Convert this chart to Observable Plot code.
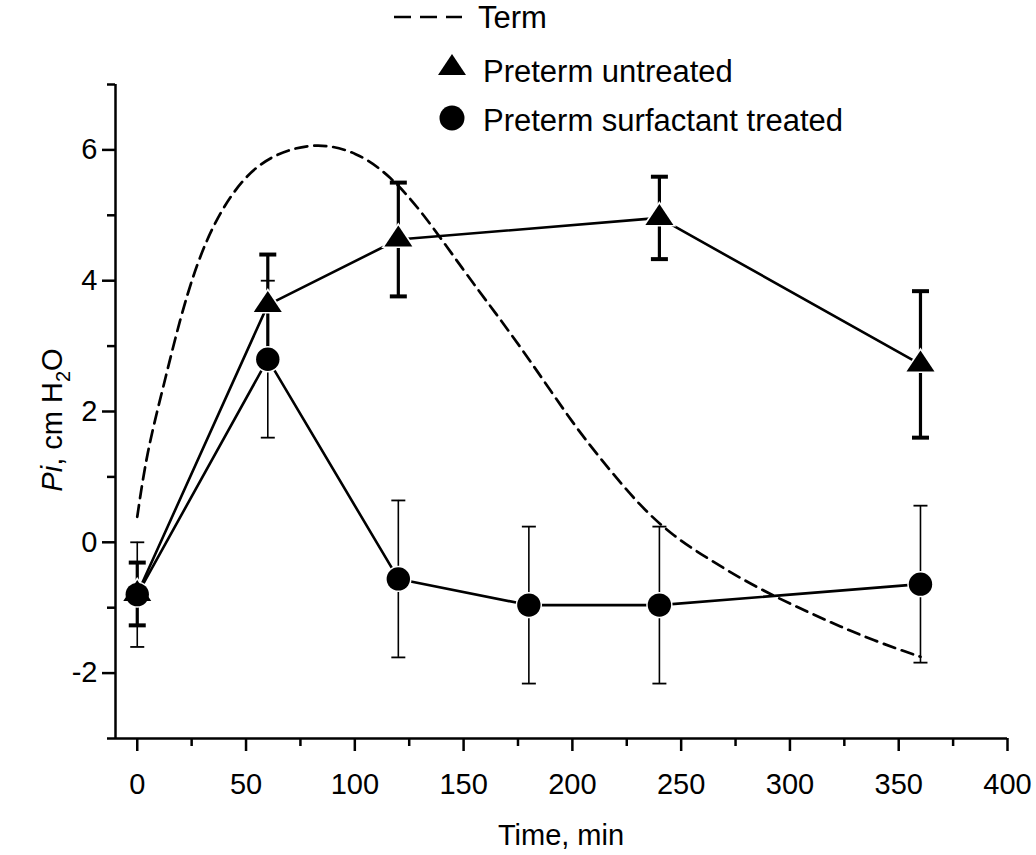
<!DOCTYPE html>
<html><head><meta charset="utf-8">
<script src="https://cdn.jsdelivr.net/npm/d3@7"></script>
<script src="https://cdn.jsdelivr.net/npm/@observablehq/plot@0.6"></script>
<style>
body{margin:0;background:#fff;}
#chart svg{display:block;}
</style></head><body><div id="chart"></div>
<script>
// ---- data ----
const untreatedTime = [0, 60, 120, 240, 360];
const untreatedMean = [-0.79, 3.63, 4.63, 4.96, 2.72];
const untreatedErr  = [0.48, 0.77, 0.87, 0.63, 1.12];

const treatedTime = [0, 60, 120, 180, 240, 360];
const treatedMean = [-0.80, 2.80, -0.56, -0.96, -0.96, -0.64];
const treatedErr  = [0.80, 1.20, 1.20, 1.20, 1.20, 1.20];

const termTime  = [0, 4.3, 12, 19.5, 27.3, 36.5, 48.7, 62.5, 82.5, 100.9, 116.2, 131.5, 149.9, 165.3, 180.6, 200.5, 215.8, 231.2, 246.5, 261.9, 277.2, 292.5, 307.9, 323.2, 338.5, 355.4, 360];
const termValue = [0.39, 1.36, 2.38, 3.40, 4.26, 4.97, 5.58, 5.94, 6.12, 5.97, 5.61, 5.03, 4.16, 3.48, 2.78, 1.80, 1.16, 0.55, 0.09, -0.24, -0.55, -0.82, -1.06, -1.29, -1.50, -1.70, -1.75];

const xMajorTicks = [0, 50, 100, 150, 200, 250, 300, 350, 400];
const xMinorTicks = [25, 75, 125, 175, 225, 275, 325, 375];
const yMajorTicks = [-2, 0, 2, 4, 6];
const yMinorTicks = [-3, -1, 1, 3, 5, 7];

const legendLabels = ["Term", "Preterm untreated", "Preterm surfactant treated"];
const xLabel = "Time, min";

// ---- derived tables ----
const untreated = untreatedTime.map((t, i) => ({t, v: untreatedMean[i], lo: untreatedMean[i] - untreatedErr[i], hi: untreatedMean[i] + untreatedErr[i]}));
const treated = treatedTime.map((t, i) => ({t, v: treatedMean[i], lo: treatedMean[i] - treatedErr[i], hi: treatedMean[i] + treatedErr[i]}));
const term = termTime.map((t, i) => ({t, v: termValue[i]}));

// custom symbols
const capSymbol = {draw(ctx, size) { const h = Math.sqrt(size / Math.PI); ctx.moveTo(-h, 0); ctx.lineTo(h, 0); }};
const triSymbol = {draw(ctx, size) { const r = Math.sqrt(size / Math.PI); const h = r * 1.5; ctx.moveTo(0, -h * 2 / 3); ctx.lineTo(r, h / 3); ctx.lineTo(-r, h / 3); ctx.closePath(); }};

const FONT = "'Liberation Sans', Arial, Helvetica, sans-serif";
const FS = 29;

const svg = Plot.plot({
  width: 1036,
  height: 855,
  marginLeft: 115,
  marginRight: 29,
  marginTop: 84,
  marginBottom: 117,
  style: {fontFamily: FONT, background: "white", color: "black", overflow: "visible"},
  x: {domain: [-10, 400]},
  y: {domain: [-3, 7]},
  marks: [
    // axes
    Plot.axisX({ticks: xMinorTicks, tickSize: 8, tickFormat: () => "", strokeWidth: 2.5, label: null}),
    Plot.axisX({ticks: xMajorTicks, tickSize: 13, tickPadding: 22, tickFormat: d => String(d), fontSize: FS, strokeWidth: 2.5, label: null}),
    Plot.axisY({ticks: yMinorTicks, tickSize: 8, tickFormat: () => "", strokeWidth: 2.5, label: null}),
    Plot.axisY({ticks: yMajorTicks, tickSize: 13, tickPadding: 5, tickFormat: d => String(d), fontSize: FS, strokeWidth: 2.5, label: null}),
    Plot.ruleY([-3], {strokeWidth: 2.5}),
    Plot.ruleX([-10], {strokeWidth: 2.5}),
    // term curve
    Plot.line(term, {x: "t", y: "v", curve: "basis", stroke: "black", strokeWidth: 2.7, strokeDasharray: "12,7"}),
    // treated error bars (thin)
    Plot.ruleX(treated, {x: "t", y1: "lo", y2: "hi", stroke: "black", strokeWidth: 1.6}),
    Plot.dot(treated, {x: "t", y: "hi", symbol: capSymbol, r: 7, fill: "none", stroke: "black", strokeWidth: 1.8}),
    Plot.dot(treated, {x: "t", y: "lo", symbol: capSymbol, r: 7, fill: "none", stroke: "black", strokeWidth: 1.8}),
    // untreated error bars (thick)
    Plot.ruleX(untreated, {x: "t", y1: "lo", y2: "hi", stroke: "black", strokeWidth: 3.2}),
    Plot.dot(untreated, {x: "t", y: "hi", symbol: capSymbol, r: 8.5, fill: "none", stroke: "black", strokeWidth: 4}),
    Plot.dot(untreated, {x: "t", y: "lo", symbol: capSymbol, r: 8.5, fill: "none", stroke: "black", strokeWidth: 4}),
    // series lines
    Plot.line(untreated, {x: "t", y: "v", stroke: "black", strokeWidth: 2.6}),
    Plot.line(treated, {x: "t", y: "v", stroke: "black", strokeWidth: 2.6}),
    // markers with white halo
    Plot.dot(untreated, {x: "t", y: "v", symbol: triSymbol, r: 17, fill: "white", stroke: "none"}),
    Plot.dot(treated, {x: "t", y: "v", r: 13.2, fill: "white", stroke: "none"}),
    Plot.dot(untreated, {x: "t", y: "v", symbol: triSymbol, r: 14, fill: "black", stroke: "none"}),
    Plot.dot(treated, {x: "t", y: "v", r: 11.7, fill: "black", stroke: "none"})
  ]
});

const s = d3.select(svg);

// axis titles
s.append("text")
  .attr("x", 561).attr("y", 845)
  .attr("text-anchor", "middle")
  .attr("font-family", FONT).attr("font-size", FS).attr("fill", "black")
  .text(xLabel);

const yl = s.append("text")
  .attr("transform", "translate(62,420) rotate(-90)")
  .attr("text-anchor", "middle")
  .attr("font-family", FONT).attr("font-size", FS).attr("fill", "black");
yl.append("tspan").attr("font-style", "italic").text("Pi");
yl.append("tspan").text(", cm H");
yl.append("tspan").attr("font-size", 20).attr("dy", 8).text("2");
yl.append("tspan").attr("dy", -8).text("O");

// legend
const lg = s.append("g").attr("font-family", FONT).attr("font-size", 31).attr("fill", "black").attr("text-anchor", "start");
lg.append("line").attr("x1", 394).attr("x2", 462).attr("y1", 17).attr("y2", 17)
  .attr("stroke", "black").attr("stroke-width", 2.5).attr("stroke-dasharray", "17,9");
lg.append("text").attr("x", 478).attr("y", 28).text(legendLabels[0]);
lg.append("path").attr("transform", "translate(452,68)")
  .attr("d", d3.symbol(triSymbol, Math.PI * 14 * 14)()).attr("fill", "black");
lg.append("text").attr("x", 483).attr("y", 82).text(legendLabels[1]);
lg.append("path").attr("transform", "translate(452,118)")
  .attr("d", d3.symbol(d3.symbolCircle, Math.PI * 12.5 * 12.5)()).attr("fill", "black");
lg.append("text").attr("x", 483).attr("y", 131).text(legendLabels[2]);

document.getElementById("chart").appendChild(svg);
</script>
</body></html>
